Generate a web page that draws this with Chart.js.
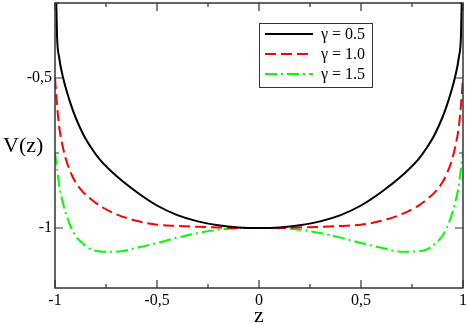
<!DOCTYPE html>
<html>
<head>
<meta charset="utf-8">
<script src="https://cdn.jsdelivr.net/npm/chart.js@4/dist/chart.umd.min.js"></script>
<style>
  html, body { margin: 0; padding: 0; background: #fff; }
  #caixa { width: 469px; height: 324px; }
</style>
</head>
<body>
<div id="caixa"><canvas id="grafico"></canvas></div>
<script>
// valores
const zValores = [-1, -0.99, -0.98, -0.96, -0.94, -0.92, -0.9, -0.86, -0.82, -0.78, -0.7, -0.6, -0.5, -0.4, -0.3, -0.2, -0.1,
  0, 0.1, 0.2, 0.3, 0.4, 0.5, 0.6, 0.7, 0.78, 0.82, 0.86, 0.9, 0.92, 0.94, 0.96, 0.98, 0.99, 1];
const vGama05 = [-0.05, -0.36, -0.43, -0.5, -0.55, -0.593, -0.63, -0.69, -0.735, -0.772, -0.826, -0.88, -0.925, -0.957, -0.978, -0.991, -0.998,
  -1, -0.998, -0.991, -0.978, -0.957, -0.925, -0.88, -0.826, -0.772, -0.735, -0.69, -0.63, -0.593, -0.55, -0.5, -0.43, -0.36, -0.05];
const vGama10 = [-0.5, -0.59, -0.66, -0.735, -0.785, -0.82, -0.847, -0.882, -0.906, -0.926, -0.954, -0.976, -0.989, -0.993, -0.996, -0.998, -1.0,
  -1, -1.0, -0.998, -0.996, -0.993, -0.989, -0.976, -0.954, -0.926, -0.906, -0.882, -0.847, -0.82, -0.785, -0.735, -0.66, -0.59, -0.5];
const vGama15 = [-0.75, -0.80, -0.855, -0.92, -0.965, -1.0, -1.025, -1.054, -1.072, -1.078, -1.079, -1.066, -1.05, -1.032, -1.017, -1.006, -1.001,
  -1, -1.001, -1.006, -1.017, -1.032, -1.05, -1.066, -1.079, -1.078, -1.072, -1.054, -1.025, -1.0, -0.965, -0.92, -0.855, -0.80, -0.75];

const rotulosSerie = ['γ = 0.5', 'γ = 1.0', 'γ = 1.5'];
const ticksX = [-1, -0.5, 0, 0.5, 1];
const ticksXMenores = [-0.75, -0.25, 0.25, 0.75];
const ticksY = [-1, -0.5];
const ticksYMenores = [-0.75, -0.25];
const limitesX = [-1, 1];
const limitesY = [-1.2, -0.25];
const tituloX = 'z';
const tituloY = 'V(z)';

const fonteSerif = "'Liberation Serif', 'DejaVu Serif', serif";

function virgula(v) {
  return String(v).replace('.', ',');
}

function montarPontos(valores) {
  return zValores.map((z, i) => ({ x: z, y: valores[i] }));
}

const estilos = [
  { cor: '#000000', traco: [] },
  { cor: '#ff0000', traco: [11, 5] },
  { cor: '#00ff00', traco: [12, 4, 2, 4] }
];

const series = [vGama05, vGama10, vGama15];

const molduraPlugin = {
  id: 'moldura',
  afterDraw(chart) {
    const ctx = chart.ctx;
    const a = chart.chartArea;
    const sx = chart.scales.x;
    const sy = chart.scales.y;
    ctx.save();
    ctx.strokeStyle = '#333';
    ctx.lineWidth = 1.5;
    ctx.setLineDash([]);
    ctx.strokeRect(a.left, a.top, a.right - a.left, a.bottom - a.top);

    // ticks para dentro nos quatro lados
    function tickX(v, tam) {
      const px = sx.getPixelForValue(v);
      ctx.beginPath();
      ctx.moveTo(px, a.bottom); ctx.lineTo(px, a.bottom - tam);
      ctx.moveTo(px, a.top); ctx.lineTo(px, a.top + tam);
      ctx.stroke();
    }
    function tickY(v, tam) {
      const py = sy.getPixelForValue(v);
      ctx.beginPath();
      ctx.moveTo(a.left, py); ctx.lineTo(a.left + tam, py);
      ctx.moveTo(a.right, py); ctx.lineTo(a.right - tam, py);
      ctx.stroke();
    }
    ctx.lineWidth = 1.2;
    ticksX.forEach(v => tickX(v, 8));
    ticksXMenores.forEach(v => tickX(v, 4));
    ticksY.forEach(v => tickY(v, 8));
    ticksYMenores.forEach(v => tickY(v, 4));

    // titulos dos eixos
    ctx.fillStyle = '#000';
    ctx.font = '22px ' + fonteSerif;
    ctx.textBaseline = 'alphabetic';
    ctx.textAlign = 'center';
    ctx.fillText(tituloX, (a.left + a.right) / 2, 322);
    ctx.textAlign = 'left';
    ctx.fillText(tituloY, 3, 152);

    // legenda
    const lx = 259.5, ly = 23.5, lw = 113, lh = 64;
    ctx.fillStyle = '#fff';
    ctx.fillRect(lx, ly, lw, lh);
    ctx.strokeStyle = '#333';
    ctx.lineWidth = 1;
    ctx.strokeRect(lx, ly, lw, lh);
    const linhasY = [34, 54, 74];
    rotulosSerie.forEach((rot, i) => {
      ctx.strokeStyle = estilos[i].cor;
      ctx.lineWidth = 2;
      ctx.setLineDash(estilos[i].traco);
      ctx.beginPath();
      ctx.moveTo(265, linhasY[i]);
      ctx.lineTo(313, linhasY[i]);
      ctx.stroke();
      ctx.setLineDash([]);
      ctx.fillStyle = '#000';
      ctx.font = '16px ' + fonteSerif;
      ctx.textAlign = 'left';
      ctx.textBaseline = 'middle';
      ctx.fillText(rot, 321, linhasY[i] + 1);
    });
    ctx.restore();
  }
};

const ctx = document.getElementById('grafico').getContext('2d');
const grafico = new Chart(ctx, {
  type: 'scatter',
  data: {
    datasets: series.map((valores, i) => ({
      label: rotulosSerie[i],
      data: montarPontos(valores),
      showLine: true,
      borderColor: estilos[i].cor,
      borderDash: estilos[i].traco,
      borderWidth: 2,
      pointRadius: 0,
      fill: false,
      cubicInterpolationMode: 'monotone'
    }))
  },
  options: {
    responsive: true,
    maintainAspectRatio: false,
    animation: false,
    devicePixelRatio: 1,
    layout: { padding: { top: 3, right: 6, left: 0, bottom: 0 } },
    plugins: {
      legend: { display: false },
      tooltip: { enabled: false }
    },
    scales: {
      x: {
        type: 'linear',
        min: limitesX[0],
        max: limitesX[1],
        grid: { display: false, drawTicks: false },
        border: { display: false },
        afterBuildTicks: (s) => { s.ticks = ticksX.map(v => ({ value: v })); },
        afterFit: (s) => { s.height = 36; s.paddingLeft = 0; s.paddingRight = 0; },
        ticks: {
          color: '#000',
          padding: 3,
          maxRotation: 0,
          font: { family: fonteSerif, size: 16, lineHeight: 1.2 },
          callback: (v) => virgula(v)
        }
      },
      y: {
        type: 'linear',
        min: limitesY[0],
        max: limitesY[1],
        grid: { display: false, drawTicks: false },
        border: { display: false },
        afterBuildTicks: (s) => { s.ticks = ticksY.map(v => ({ value: v })); },
        afterFit: (s) => { s.width = 55; s.paddingTop = 0; s.paddingBottom = 0; },
        ticks: {
          color: '#000',
          padding: 3,
          font: { family: fonteSerif, size: 16, lineHeight: 1.2 },
          callback: (v) => virgula(v)
        }
      }
    }
  },
  plugins: [molduraPlugin]
});
</script>
</body>
</html>
